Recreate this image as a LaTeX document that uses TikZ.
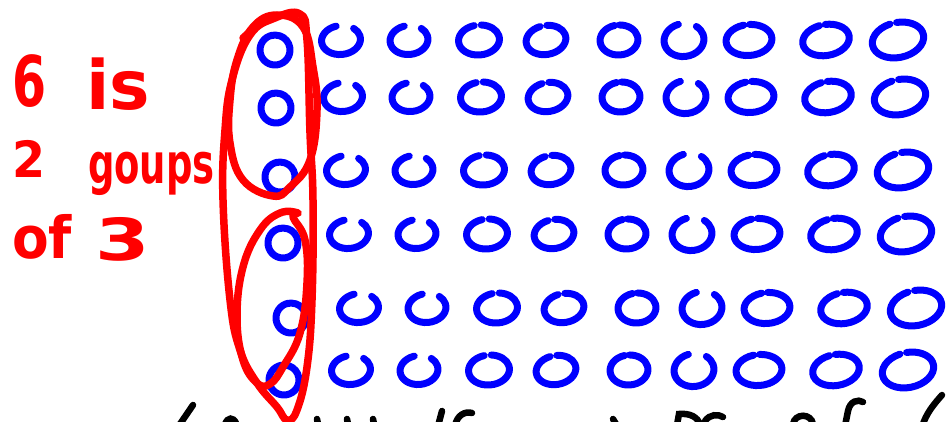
\documentclass[tikz,border=0pt]{standalone}
\usepackage{fontspec}
\setmainfont{DejaVu Sans}
\usetikzlibrary{calc}
\definecolor{penblue}{RGB}{0,0,255}
\definecolor{penred}{RGB}{255,0,0}
\definecolor{penblack}{RGB}{0,0,0}
\tikzset{
  dotloop/.style={draw=penblue, line width=7pt, line cap=round, line join=round},
  ring/.style={draw=penred, line width=7.5pt, line cap=round, line join=round},
  scrawl/.style={draw=penblack, line width=6.5pt, line cap=round},
  note/.style={text=penred, inner sep=0pt, anchor=base west,
               font=\fontsize{58}{58}\selectfont\bfseries, transform shape}
}

\begin{document}
\begin{tikzpicture}[x=1pt,y=1pt]
  \useasboundingbox (0,0) rectangle (946,421);
  \fill[white] (0,0) rectangle (946,421);
  \clip (0,0) rectangle (946,421);

  % red words on the left
  \node[note, font=\fontsize{70}{70}\selectfont\bfseries, xscale=0.7] (six) at (12,314) {6};
  \node[note, font=\fontsize{68}{68}\selectfont\bfseries] (is) at (86,311) {is};
  \node[note, font=\fontsize{50}{50}\selectfont\bfseries, xscale=0.95] (two) at (12,243) {2};
  \node[note, font=\fontsize{56}{56}\selectfont\bfseries, xscale=0.66] (goups) at (88,237) {goups};
  \node[note, xscale=0.92] (of) at (12,162) {of};
  \node[note, xscale=1.35] (three) at (95,160) {3};

  % first column, the one that is ringed
  \foreach \cx/\cy in {275/371, 276/313, 280/244, 283/178, 291/103, 284/41}
    \draw[dotloop] (\cx,\cy) ++(100:15pt and 15pt)
      arc[start angle=100, end angle=470, x radius=15pt, y radius=15pt];

  % the other nine columns
  \foreach \ya/\sh in {381/0, 324/2, 251/5, 187/8, 113/18, 51/10} {
    \foreach \xa/\rx/\ry/\tilt/\stop in {341/19.5/14.5/6/405, 409/19/14.5/6/405,
        479/20.5/15/5/440, 546/20/14.5/10/440, 619/19/15/4/445, 684/20/16.5/8/405,
        749/23/15.5/5/445, 826/23.5/15.5/10/445, 898/26/17.5/12/445} {
      \begin{scope}[shift={(\xa+\sh,\ya)}, rotate=\tilt]
        \draw[dotloop] (100:\rx pt and \ry pt)
          arc[start angle=100, end angle=\stop, x radius=\rx pt, y radius=\ry pt];
      \end{scope}
    }
  }

  % red rings round the column
  \draw[ring] plot[smooth cycle, tension=0.7] coordinates {(277,406) (303,394) (313,354)
    (317,311) (310,261) (290,234) (273,225) (243,241) (230,278) (230,321) (237,361) (253,394)};
  \draw[ring] (243,383) -- (262,400);
  \draw[ring] plot[smooth cycle, tension=0.7] coordinates {(300,407) (307,381) (310,288)
    (313,221) (312,121) (307,54) (297,11) (287,1) (277,14) (257,38) (240,71) (230,121)
    (223,221) (225,291) (232,341) (250,386) (275,403)};
  \draw[ring] plot[smooth cycle, tension=0.7] coordinates {(298,208) (280,208) (260,191)
    (243,154) (237,104) (243,61) (257,38) (270,37) (283,54) (300,88) (307,138) (305,181)
    (293,204)};

  % black writing cut off at the bottom edge
  \draw[scrawl] (193,16) -- (178,-6);
  \draw[scrawl] (225,-3) .. controls (228,4) and (233,4) .. (236,-2);
  \draw[scrawl] (317,2) -- (318,-3);
  \draw[scrawl] (347,2) -- (348,-3);
  \draw[scrawl] (373,2) -- (374,-3);
  \draw[scrawl] (442,10) -- (438,-5);
  \draw[scrawl] (455,-5) .. controls (457,6) and (465,10) .. (472,8);
  \draw[scrawl] (613,2) -- (616,-3);
  \draw[scrawl] (677,-4) -- (679,7) .. controls (690,8) and (698,4) .. (700,-4);
  \draw[scrawl] (705,0) .. controls (710,7) and (718,7) .. (723,4);
  \draw[scrawl] (793,-3) .. controls (795,8) and (811,8) .. (813,-3);
  \draw[scrawl] (845,-5) -- (848,10) .. controls (850,20) and (858,22) .. (863,19);
  \draw[scrawl] (942,26) .. controls (935,18) and (926,8) .. (922,-6);
\end{tikzpicture}
\end{document}
